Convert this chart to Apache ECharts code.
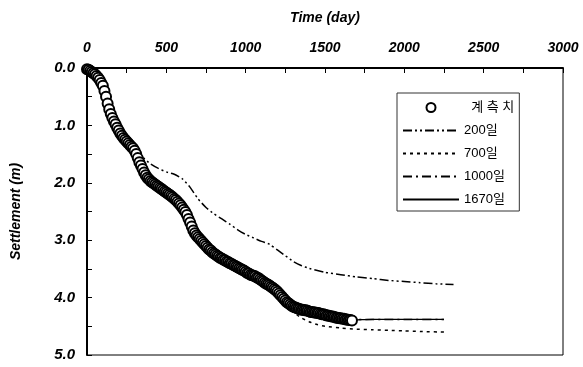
<!DOCTYPE html>
<html>
<head>
<meta charset="utf-8">
<script src="https://cdn.jsdelivr.net/npm/echarts@6/dist/echarts.min.js"></script>
<style>
  html, body { margin: 0; padding: 0; background: #fff; }
  #chart { width: 583px; height: 367px; }
</style>
</head>
<body>
<div id="chart"></div>
<script>
// measured settlement (계측치), one reading every 10 days
const obsDays = [
  0, 10, 20, 30, 40, 50, 60, 70, 80, 90,
  100, 110, 120, 130, 140, 150, 160, 170, 180, 190,
  200, 210, 220, 230, 240, 250, 260, 270, 280, 290,
  300, 310, 320, 330, 340, 350, 360, 370, 380, 390,
  400, 410, 420, 430, 440, 450, 460, 470, 480, 490,
  500, 510, 520, 530, 540, 550, 560, 570, 580, 590,
  600, 610, 620, 630, 640, 650, 660, 670, 680, 690,
  700, 710, 720, 730, 740, 750, 760, 770, 780, 790,
  800, 810, 820, 830, 840, 850, 860, 870, 880, 890,
  900, 910, 920, 930, 940, 950, 960, 970, 980, 990,
  1000, 1010, 1020, 1030, 1040, 1050, 1060, 1070, 1080, 1090,
  1100, 1110, 1120, 1130, 1140, 1150, 1160, 1170, 1180, 1190,
  1200, 1210, 1220, 1230, 1240, 1250, 1260, 1270, 1280, 1290,
  1300, 1310, 1320, 1330, 1340, 1350, 1360, 1370, 1380, 1390,
  1400, 1410, 1420, 1430, 1440, 1450, 1460, 1470, 1480, 1490,
  1500, 1510, 1520, 1530, 1540, 1550, 1560, 1570, 1580, 1590,
  1600, 1610, 1620, 1630, 1640, 1650, 1660, 1670];
const obsVals = [
  0.02, 0.03, 0.05, 0.07, 0.09, 0.11, 0.14, 0.17, 0.21, 0.26,
  0.31, 0.40, 0.50, 0.62, 0.72, 0.80, 0.87, 0.93, 0.98, 1.04,
  1.09, 1.14, 1.18, 1.22, 1.25, 1.28, 1.31, 1.34, 1.37, 1.40,
  1.44, 1.50, 1.57, 1.64, 1.70, 1.76, 1.82, 1.87, 1.91, 1.94,
  1.97, 1.99, 2.01, 2.03, 2.05, 2.07, 2.09, 2.11, 2.13, 2.15,
  2.17, 2.19, 2.21, 2.23, 2.25, 2.28, 2.30, 2.33, 2.36, 2.39,
  2.43, 2.47, 2.51, 2.56, 2.63, 2.69, 2.76, 2.83, 2.88, 2.92,
  2.95, 2.98, 3.01, 3.04, 3.07, 3.10, 3.13, 3.16, 3.18, 3.21,
  3.23, 3.25, 3.27, 3.29, 3.31, 3.32, 3.34, 3.35, 3.37, 3.38,
  3.40, 3.41, 3.43, 3.44, 3.46, 3.47, 3.49, 3.50, 3.52, 3.53,
  3.55, 3.57, 3.58, 3.60, 3.61, 3.62, 3.63, 3.65, 3.66, 3.68,
  3.70, 3.72, 3.74, 3.76, 3.77, 3.79, 3.81, 3.83, 3.85, 3.87,
  3.90, 3.93, 3.96, 3.99, 4.02, 4.05, 4.08, 4.10, 4.12, 4.14,
  4.16, 4.17, 4.18, 4.19, 4.20, 4.21, 4.21, 4.22, 4.22, 4.23,
  4.24, 4.25, 4.25, 4.26, 4.26, 4.27, 4.27, 4.28, 4.29, 4.29,
  4.30, 4.31, 4.31, 4.32, 4.33, 4.33, 4.34, 4.35, 4.35, 4.36,
  4.36, 4.37, 4.37, 4.38, 4.38, 4.39, 4.39, 4.40];

// predictions
const p200Days = [300, 350, 400, 450, 500, 550, 600, 650, 700, 750, 800, 850, 900, 950, 1000, 1050, 1100, 1150, 1200,
  1250, 1300, 1350, 1400, 1500, 1600, 1700, 1800, 1900, 2000, 2100, 2200, 2310];
const p200Vals = [1.42, 1.55, 1.67, 1.75, 1.81, 1.85, 1.93, 2.08, 2.28, 2.43, 2.54, 2.63, 2.72, 2.82, 2.90, 2.96, 3.02, 3.07, 3.17,
  3.27, 3.37, 3.44, 3.49, 3.56, 3.60, 3.64, 3.67, 3.70, 3.72, 3.74, 3.76, 3.77];

const p700Days = [1100, 1150, 1200, 1250, 1300, 1350, 1400, 1450, 1500, 1600, 1700, 1800, 1900, 2000, 2100, 2250];
const p700Vals = [3.70, 3.82, 3.95, 4.10, 4.25, 4.35, 4.42, 4.47, 4.50, 4.53, 4.55, 4.56, 4.57, 4.58, 4.59, 4.60];

const p1000Days = [1000, 1100, 1200, 1300, 1400, 1500, 1600, 1700, 1800, 1900, 2000, 2250];
const p1000Vals = [3.55, 3.70, 3.90, 4.16, 4.24, 4.30, 4.36, 4.38, 4.38, 4.38, 4.38, 4.38];

const p1670Days = [1650, 1670, 1800, 2000, 2250];
const p1670Vals = [4.39, 4.39, 4.38, 4.38, 4.38];

const xTicks = [0, 500, 1000, 1500, 2000, 2500, 3000];
const yTicks = [0, 1, 2, 3, 4, 5];

const pair = (xs, ys) => xs.map((x, i) => [x, ys[i]]);

const font = '"Liberation Sans", Arial, "Noto Sans CJK KR", sans-serif';
const chart = echarts.init(document.getElementById('chart'));

const lineSeries = (name, xs, ys, dash, width) => ({
  name,
  type: 'line',
  data: pair(xs, ys),
  smooth: 0.2,
  symbol: 'none',
  showSymbol: false,
  z: 2,
  lineStyle: { color: '#000', width, type: dash },
  itemStyle: { color: '#000' },
});

const hideSym = name => ({ name, itemStyle: { opacity: 0 } });

chart.setOption({
  animation: false,
  backgroundColor: '#fff',
  textStyle: { fontFamily: font },
  grid: {
    left: 87, top: 68, right: 20, bottom: 12,
    show: true, borderColor: '#000', borderWidth: 1,
  },
  legend: {
    left: 397, top: 93,
    width: 137,
    orient: 'vertical',
    padding: [8, 5, 5, 5],
    itemGap: 10,
    itemWidth: 56,
    itemHeight: 9,
    borderColor: '#333',
    borderWidth: 1,
    backgroundColor: '#fff',
    textStyle: { fontSize: 13, color: '#000', fontFamily: font },
    formatter: name => (name === '계측치' ? '  계 측 치' : name),
    data: [
      { name: '계측치', icon: 'emptyCircle', itemStyle: { color: '#000', borderColor: '#000', borderWidth: 1.5, opacity: 1 } },
      hideSym('200일'), hideSym('700일'), hideSym('1000일'), hideSym('1670일'),
    ],
  },
  xAxis: {
    type: 'value',
    position: 'top',
    min: 0, max: 3000, interval: 500,
    name: 'Time (day)',
    nameLocation: 'middle',
    nameGap: 43,
    nameTextStyle: { fontSize: 14, fontWeight: 'bold', fontStyle: 'italic', color: '#000' },
    axisLine: { lineStyle: { color: '#000', width: 2 } },
    axisTick: { inside: true, length: 5, lineStyle: { color: '#000' } },
    minorTick: { show: true, splitNumber: 2, length: 5, lineStyle: { color: '#000' } },
    splitLine: { show: false },
    axisLabel: {
      margin: 13, fontSize: 14, fontWeight: 'bold', fontStyle: 'italic', color: '#000',
      customValues: xTicks,
      formatter: v => String(v),
    },
  },
  yAxis: {
    type: 'value',
    inverse: true,
    min: 0, max: 5, interval: 1,
    name: 'Settlement (m)',
    nameLocation: 'middle',
    nameGap: 64,
    nameRotate: 90,
    nameTextStyle: { fontSize: 14, fontWeight: 'bold', fontStyle: 'italic', color: '#000' },
    axisLine: { lineStyle: { color: '#000', width: 2 } },
    axisTick: { inside: true, length: 5, lineStyle: { color: '#000' } },
    minorTick: { show: true, splitNumber: 2, length: 5, lineStyle: { color: '#000' } },
    splitLine: { show: false },
    axisLabel: {
      margin: 12, fontSize: 15, fontWeight: 'bold', fontStyle: 'italic', color: '#000',
      customValues: yTicks,
      formatter: v => v.toFixed(1),
    },
  },
  series: [
    {
      name: '계측치',
      type: 'scatter',
      data: pair(obsDays, obsVals),
      symbol: 'emptyCircle',
      symbolSize: 10,
      z: 5,
      itemStyle: { color: '#000', borderColor: '#000', borderWidth: 1.3, opacity: 1 },
    },
    lineSeries('200일', p200Days, p200Vals, [9, 3, 2, 3, 2, 3], 1.5),
    lineSeries('700일', p700Days, p700Vals, [3, 4], 1.5),
    lineSeries('1000일', p1000Days, p1000Vals, [9, 4, 2, 4], 1.5),
    lineSeries('1670일', p1670Days, p1670Vals, 'solid', 1.2),
  ],
});
</script>
</body>
</html>
